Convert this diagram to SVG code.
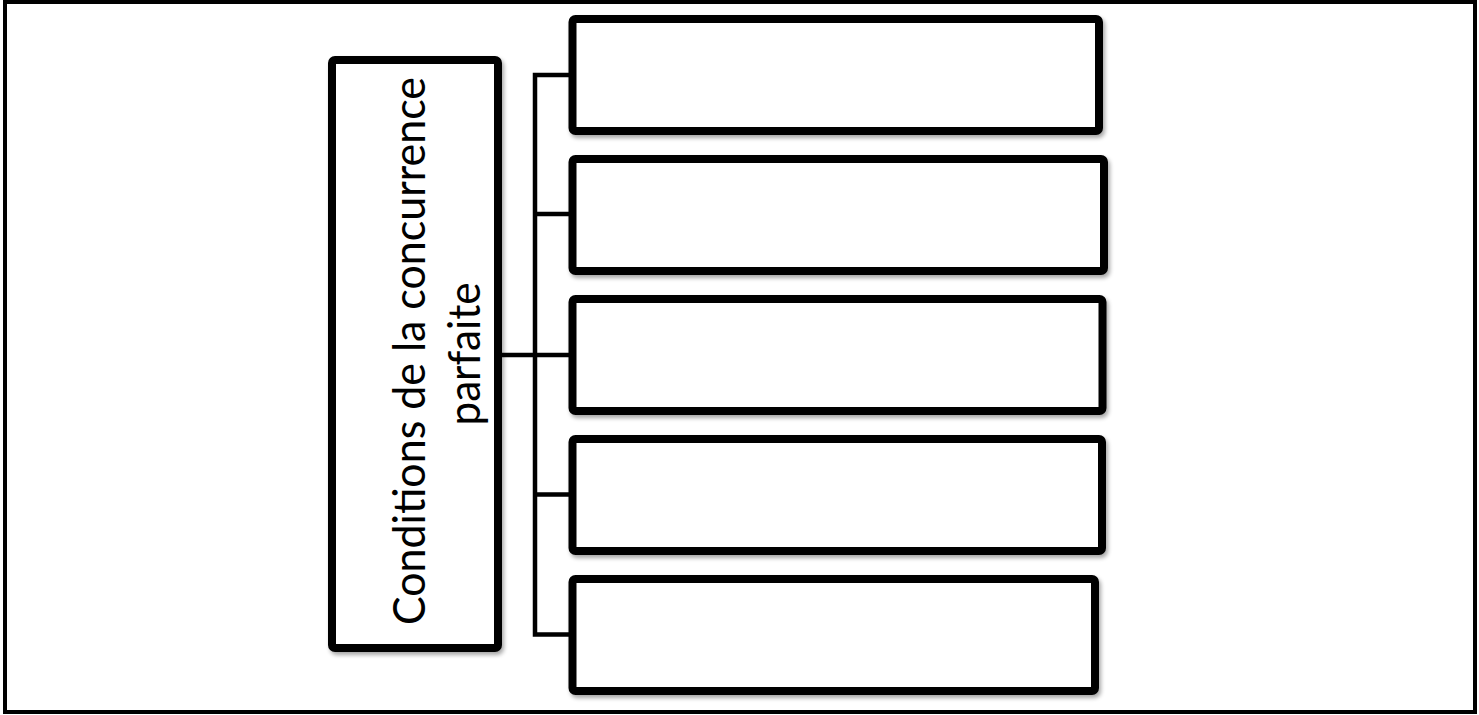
<svg xmlns="http://www.w3.org/2000/svg" width="1479" height="715" viewBox="0 0 1479 715">
<style>
.box{fill:#ffffff;stroke:#000000;stroke-width:8;filter:url(#sh)}
.lbl{font-family:"Lato","Open Sans","Liberation Sans",sans-serif;font-size:44px;fill:#000000}
.conn{stroke:#000000;stroke-width:4.5;fill:none;stroke-linecap:square}
</style>
<defs>
<filter id="sh" x="-10%" y="-10%" width="120%" height="130%">
<feGaussianBlur in="SourceAlpha" stdDeviation="2"/>
<feOffset dx="2" dy="3" result="b"/>
<feComponentTransfer><feFuncA type="linear" slope="0.35"/></feComponentTransfer>
<feMerge><feMergeNode/><feMergeNode in="SourceGraphic"/></feMerge>
</filter>
</defs>
<rect x="0" y="0" width="1479" height="715" fill="#ffffff"/>
<rect x="5" y="2" width="1470" height="710" fill="none" stroke="#000000" stroke-width="4"/>
<g id="connectors">
<path class="conn" d="M498,355 H535 M535,75 V634.5 M535,75 H572 M535,214 H572 M535,355 H572 M535,494.5 H572 M535,634.5 H572"/>
</g>
<g id="main">
<rect class="box" x="332" y="60" width="166" height="588" rx="3"/>
<text class="lbl" transform="translate(425,351) rotate(-90)" text-anchor="middle" textLength="548" lengthAdjust="spacingAndGlyphs">Conditions de la concurrence</text>
<text class="lbl" transform="translate(480,354) rotate(-90)" text-anchor="middle" textLength="143" lengthAdjust="spacingAndGlyphs">parfaite</text>
</g>
<g id="box1"><rect class="box" x="572.5" y="19" width="526.5" height="112" rx="3"/></g>
<g id="box2"><rect class="box" x="572.5" y="159" width="531.5" height="112" rx="3"/></g>
<g id="box3"><rect class="box" x="572.5" y="299" width="530" height="112" rx="3"/></g>
<g id="box4"><rect class="box" x="572.5" y="439" width="529.5" height="112" rx="3"/></g>
<g id="box5"><rect class="box" x="572.5" y="579" width="522.5" height="112" rx="3"/></g>
</svg>
